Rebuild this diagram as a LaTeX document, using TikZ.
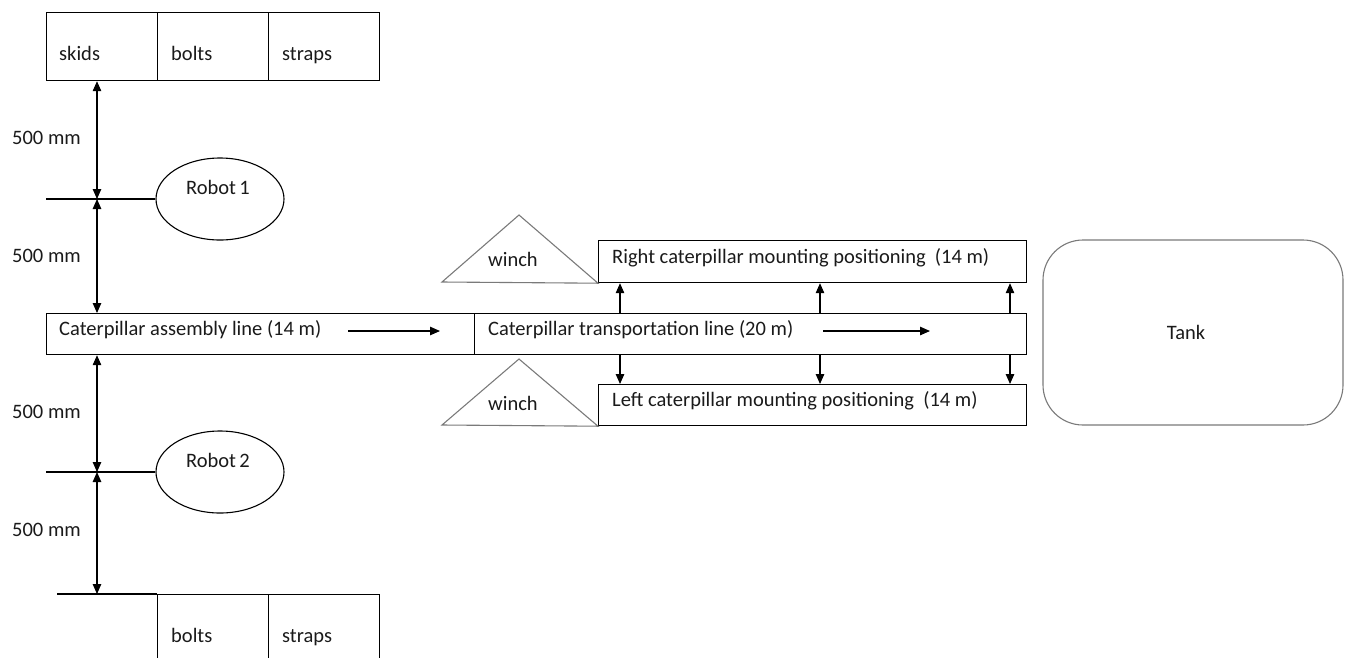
\documentclass[tikz,border=0pt]{standalone}
\usepackage{fontspec}
\setmainfont{Carlito}
\usetikzlibrary{positioning,arrows.meta,calc,shapes.geometric}
\definecolor{linegray}{HTML}{7A7A7A}
\definecolor{textdark}{HTML}{1A1A1A}

\begin{document}
\begin{tikzpicture}[x=1pt, y=-1pt, >={Triangle[length=10pt,width=8.5pt]},
    every node/.style={font=\fontsize{20.5}{24}\selectfont, text=textdark},
    box/.style={draw, line width=1.2pt, inner sep=0pt, anchor=north west},
    lbl/.style={inner sep=0pt, anchor=base west},
    robot/.style={draw, line width=1.1pt, ellipse, inner sep=0pt, minimum width=128pt, minimum height=82pt},
    dim/.style={<->, line width=1.1pt},
    feed/.style={->, line width=1.1pt}]
  \useasboundingbox (0,0) rectangle (1349,657);
  \clip (0,0) rectangle (1349,657);
  % top storage
  \node[box, minimum width=111pt, minimum height=68pt] (skids) at (46,12) {};
  \node[box, minimum width=111pt, minimum height=68pt] (bolts) at (157,12) {};
  \node[box, minimum width=111pt, minimum height=68pt] (straps) at (268,12) {};
  \node[lbl] at (59,60) {skids};
  \node[lbl] at (171,60) {bolts};
  \node[lbl] at (282,60) {straps};
  % robots
  \node[robot] (rob1) at (220,199) {};
  \node[robot] (rob2) at (220,472) {};
  \node[inner sep=0pt, anchor=base] at (218,194) {Robot\,1};
  \node[inner sep=0pt, anchor=base] at (218,467) {Robot\,2};
  % lines
  \node[box, minimum width=428pt, minimum height=41pt] (asm) at (46,313) {};
  \node[box, minimum width=552pt, minimum height=41pt] (trans) at (474,313) {};
  \node[box, minimum width=428pt, minimum height=42pt] (right) at (598,240) {};
  \node[box, minimum width=428pt, minimum height=41pt] (left) at (598,384) {};
  \node[lbl] at (59,335) {Caterpillar assembly line (14 m)};
  \node[lbl] at (488,335) {Caterpillar transportation line (20 m)};
  \node[lbl] at (612,263) {Right caterpillar mounting positioning\ \ (14 m)};
  \node[lbl] at (612,406) {Left caterpillar mounting positioning\ \ (14 m)};
  \coordinate (asmA) at (348,331);
  \coordinate (asmB) at (440,331);
  \coordinate (transA) at (823,331);
  \coordinate (transB) at (930,331);
  \draw[feed] (asmA) -- (asmB);
  \draw[feed] (transA) -- (transB);
  \foreach \x in {620,820,1010} {
    \draw[feed] (\x,0 |- trans.north) -- (\x,0 |- right.south);
    \draw[feed] (\x,0 |- trans.south) -- (\x,0 |- left.north);
  }
  % winches
  \draw[linegray, line width=1.1pt] (442,282) -- (519,215) -- (right.south west) -- cycle;
  \draw[linegray, line width=1.1pt] (442,425) -- (519,359) -- (left.south west) -- cycle;
  \node[lbl] at (488,266) {winch};
  \node[lbl] at (488,410) {winch};
  % tank
  \node[draw=linegray, line width=1.1pt, rounded corners=40pt, minimum width=300pt, minimum height=185pt,
    label={[xshift=-7pt]center:Tank}] (tank) at (1193,332.5) {};
  % bottom storage
  \coordinate (baseL) at (57,594);
  \node[box, minimum width=111pt, minimum height=90pt] (bolts2) at (157,594) {};
  \node[box, minimum width=111pt, minimum height=90pt] (straps2) at (268,594) {};
  \draw[line width=1.2pt] (baseL) -- (bolts2.north west);
  \node[lbl] at (171,642) {bolts};
  \node[lbl] at (282,642) {straps};
  % spacing
  \coordinate (dimx) at (97,0);
  \draw[line width=1.1pt] (skids.south west |- rob1.west) -- (rob1.west);
  \draw[line width=1.1pt] (skids.south west |- rob2.west) -- (rob2.west);
  \draw[dim] (dimx |- skids.south) -- (dimx |- rob1.west);
  \draw[dim] (dimx |- rob1.west) -- (dimx |- asm.north);
  \draw[dim] (dimx |- asm.south) -- (dimx |- rob2.west);
  \draw[dim] (dimx |- rob2.west) -- (dimx |- baseL);
  \foreach \y in {144,262,418,536}
    \node[lbl] at (12,\y) {500 mm};
\end{tikzpicture}
\end{document}
